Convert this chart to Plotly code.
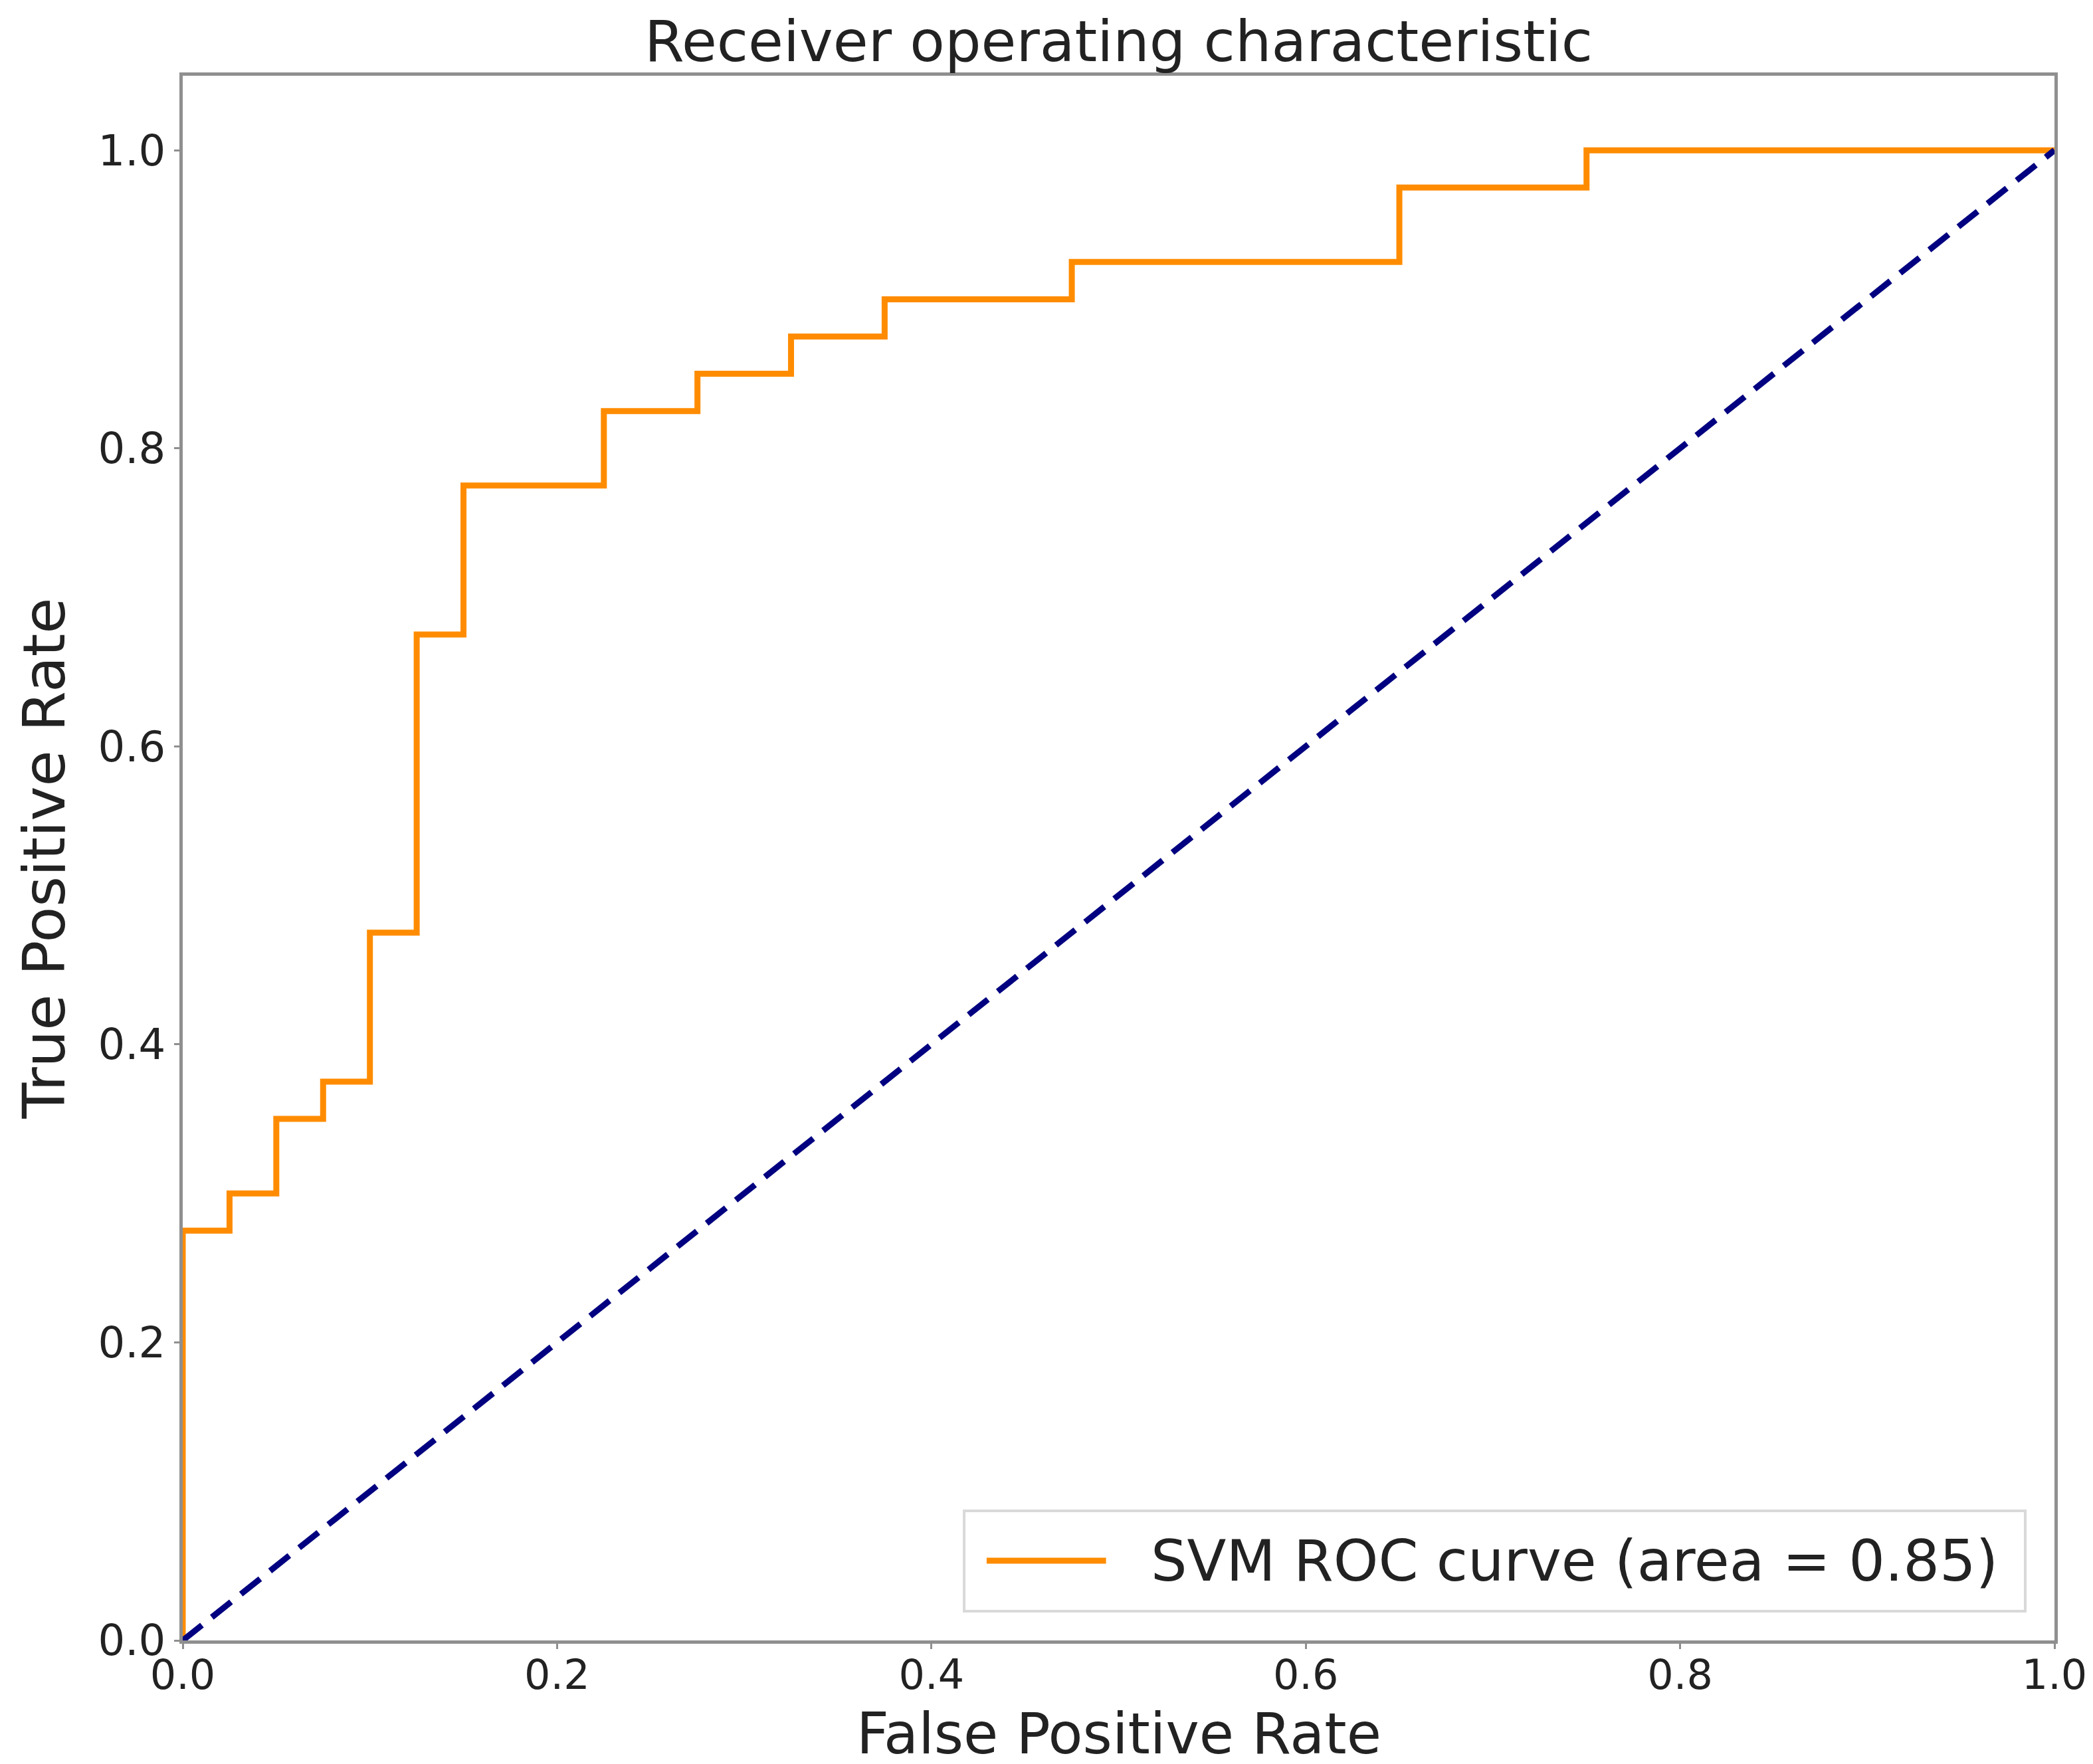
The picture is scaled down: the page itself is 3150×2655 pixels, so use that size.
import plotly.graph_objects as go

# ROC points (step curve)
fpr = [0.0, 0.0, 0.025, 0.05, 0.075, 0.1, 0.125, 0.15, 0.225, 0.275, 0.325, 0.375, 0.475, 0.65, 0.75, 1.0]
tpr = [0.0, 0.275, 0.3, 0.35, 0.375, 0.475, 0.675, 0.775, 0.825, 0.85, 0.875, 0.9, 0.925, 0.975, 1.0, 1.0]
roc_auc = 0.85

chance_x = [0.0, 1.0]
chance_y = [0.0, 1.0]

tick_vals = [0.0, 0.2, 0.4, 0.6, 0.8, 1.0]
tick_text = ["0.0", "0.2", "0.4", "0.6", "0.8", "1.0"]

font_family = "DejaVu Sans"
text_color = "#222222"
frame_color = "#8f8f8f"
roc_color = "darkorange"

W, H = 3150, 2655
m_l, m_r, m_t, m_b = 267, 66, 106, 194
plot_h = H - m_t - m_b

fig = go.Figure()

fig.add_trace(go.Scatter(
    x=fpr, y=tpr, mode="lines", line_shape="hv",
    line=dict(color=roc_color, width=9),
    name="SVM ROC curve (area = %0.2f)" % roc_auc,
    showlegend=False,
))

fig.add_trace(go.Scatter(
    x=chance_x, y=chance_y, mode="lines",
    line=dict(color="navy", width=9, dash="37px,19px"),
    showlegend=False,
))

axis_common = dict(
    showgrid=False, zeroline=False,
    showline=True, linecolor=frame_color, linewidth=5, mirror=True,
    ticks="outside", ticklen=8, tickwidth=3, tickcolor=frame_color,
    tickvals=tick_vals, ticktext=tick_text,
    tickfont=dict(family=font_family, size=64, color=text_color),
)

fig.update_xaxes(range=[0, 1.0], ticklabelstandoff=-14, **axis_common)
fig.update_xaxes(tickfont_size=62)
fig.update_yaxes(
    range=[0, 1.05],
    title=dict(text="True Positive Rate", font=dict(family=font_family, size=88, color=text_color), standoff=22),
    **axis_common,
)

# x axis title as annotation so it stays inside the page (right at the bottom edge)
fig.add_annotation(xref="x domain", yref="paper", x=0.5, y=-(m_b - 2) / plot_h,
                   xanchor="center", yanchor="bottom", showarrow=False,
                   text="False Positive Rate",
                   font=dict(family=font_family, size=85, color=text_color))

# legend box drawn by hand so the line sample has matplotlib's length
fig.add_shape(type="rect", xref="x domain", yref="y domain",
              x0=0.4175, x1=0.9844, y0=0.0187, y1=0.0828,
              line=dict(color="#d9d9d9", width=4), fillcolor="white", layer="above")
fig.add_shape(type="line", xref="x domain", yref="y domain",
              x0=0.4295, x1=0.4933, y0=0.051, y1=0.051,
              line=dict(color=roc_color, width=9), layer="above")
fig.add_annotation(xref="x domain", yref="y domain", x=0.5165, y=0.051,
                   xanchor="left", yanchor="middle", showarrow=False,
                   text="SVM ROC curve (area = %0.2f)" % roc_auc,
                   font=dict(family=font_family, size=86, color=text_color))

fig.update_layout(
    width=W, height=H,
    paper_bgcolor="white", plot_bgcolor="white",
    margin=dict(l=m_l, r=m_r, t=m_t, b=m_b),
    title=dict(
        text="Receiver operating characteristic",
        font=dict(family=font_family, size=86, color=text_color),
        x=(m_l + W - m_r) / 2 / W, xanchor="center",
        y=1 - 54 / H, yanchor="middle",
    ),
)

fig.write_html("out.html")
